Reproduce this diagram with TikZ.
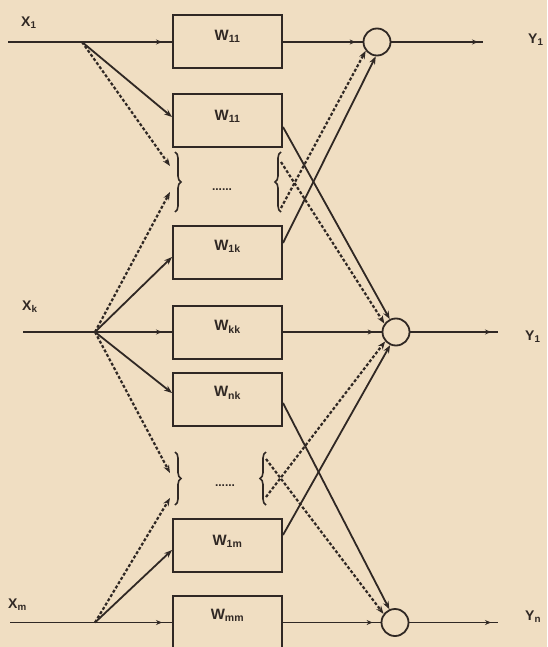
\documentclass[tikz,border=0pt]{standalone}
\usepackage{fontspec}
\setmainfont{Liberation Sans}
\usetikzlibrary{arrows.meta,decorations.pathreplacing,decorations.markings,calc}
\definecolor{paper}{RGB}{240,222,194}
\definecolor{ink}{RGB}{48,40,36}
\begin{document}
\begin{tikzpicture}[x=1pt,y=-1pt,
  wbox/.style={draw=ink,line width=2pt,minimum width=109pt,minimum height=53pt,inner sep=0pt},
  wlab/.style={font=\bfseries\fontsize{15}{15}\selectfont,text=ink,inner sep=0pt},
  xlab/.style={font=\bfseries\fontsize{14}{14}\selectfont,text=ink,anchor=west,inner sep=0pt},
  dotsl/.style={font=\bfseries\fontsize{12}{12}\selectfont,text=ink,inner sep=0pt},
  sumnode/.style={circle,draw=ink,line width=1.8pt,minimum size=27pt,inner sep=0pt},
  conn/.style={draw=ink,line width=1.8pt},
  dotconn/.style={draw=ink,line width=2.2pt,dash pattern=on 3pt off 2pt},
  tip/.style={-{Stealth[length=8pt,width=6pt]}},
  midtip/.style={postaction={decorate},decoration={markings,mark=at position #1 with {\arrow{Stealth[length=6pt,width=5pt]}}}},
  bracel/.style={draw=ink,line width=1.6pt,decorate,decoration={brace,amplitude=6pt}},
]
\useasboundingbox[fill=paper] (0,0) rectangle (547,647);
\clip (0,0) rectangle (547,647);

% boxes
\node[wbox] (b1) at (227.5,42) {};
\node[wbox] (b2) at (227.5,121) {};
\node[wbox] (b3) at (227.5,252.5) {};
\node[wbox] (b4) at (227.5,332) {};
\node[wbox] (b5) at (227.5,399) {};
\node[wbox] (b6) at (227.5,545) {};
\node[wbox] (b7) at (227.5,622.5) {};
\node[wlab] (t1) at ([yshift=6pt]b1.center) {W\textsubscript{11}};
\node[wlab] (t2) at ([yshift=5pt]b2.center) {W\textsubscript{11}};
\node[wlab] (t3) at ([yshift=6pt]b3.center) {W\textsubscript{1k}};
\node[wlab] (t4) at ([yshift=5pt]b4.center) {W\textsubscript{kk}};
\node[wlab] (t5) at ([yshift=6pt]b5.center) {W\textsubscript{nk}};
\node[wlab] (t6) at ([yshift=4pt]b6.center) {W\textsubscript{1m}};
\node[wlab] (t7) at ([yshift=7pt]b7.center) {W\textsubscript{mm}};

% summing circles
\node[sumnode] (c1) at (377,42) {};
\node[sumnode] (c2) at (396,332) {};
\node[sumnode] (c3) at (395,622.5) {};

% labels
\node[xlab] (x1) at (21,23) {X\textsubscript{1}};
\node[xlab] (xk) at (22,307) {X\textsubscript{k}};
\node[xlab] (xm) at (8,605) {X\textsubscript{m}};
\node[xlab] (y1) at (528,40) {Y\textsubscript{1}};
\node[xlab] (y2) at (525,337) {Y\textsubscript{1}};
\node[xlab] (y3) at (525,617) {Y\textsubscript{n}};

% dots
\node[dotsl] (d1) at (222,190) {......};
\node[dotsl] (d2) at (225,486) {......};

% coordinates
\coordinate (s1) at (8,42);
\coordinate (sk) at (23,332);
\coordinate (sm) at (10,622.5);
\coordinate (p1) at (82,42);
\coordinate (pk) at (95,332);
\coordinate (pm) at (95,622.5);
\coordinate (l1a) at (170,166);
\coordinate (l1b) at (170,192);
\coordinate (l2a) at (170,473);
\coordinate (l2b) at (170,498);
\coordinate (r1a) at (281,162);
\coordinate (r1b) at (281,208);
\coordinate (r2a) at (266,459);
\coordinate (r2b) at (266,497);
\coordinate (o1) at (483,42);
\coordinate (o2) at (498,332);
\coordinate (o3) at (498,622.5);

% braces
\draw[bracel] (175,152) -- (175,212);
\draw[bracel] (175,452) -- (175,505);
\draw[bracel] (281,212) -- (281,152);
\draw[bracel] (266,505) -- (266,452);

% input lines
\draw[conn,midtip=-10pt] (s1) -- (b1.west);
\draw[conn,midtip=-10pt] (sk) -- (b4.west);
\draw[conn,midtip=-10pt] (sm) -- (b7.west);

% branches
\draw[conn,tip] (p1) -- ([yshift=4pt]b2.west);
\draw[dotconn,tip] (p1) -- (l1a);
\draw[conn,tip] (pk) -- ([yshift=-4.5pt]b3.west);
\draw[conn,tip] (pk) -- ([yshift=6pt]b5.west);
\draw[dotconn,tip] (pk) -- (l1b);
\draw[dotconn,tip] (pk) -- (l2a);
\draw[conn,tip] (pm) -- ([yshift=-5pt]b6.west);
\draw[dotconn,tip] (pm) -- (l2b);

% to summing circles
\draw[conn,midtip=-7pt] (b1.east) -- (c1.west);
\draw[conn,midtip=-8pt] (b4.east) -- (c2.west);
\draw[conn,midtip=-8pt] (b7.east) -- (c3.west);
\draw[conn,tip] ([yshift=9.5pt]b3.east) -- (c1.-95);
\draw[dotconn,tip] (r1b) -- (c1.-142);
\draw[conn,tip] ([yshift=-6pt]b2.east) -- (c2.116);
\draw[dotconn,tip] (r1a) -- (c2.144);
\draw[conn,tip] ([yshift=10pt]b6.east) -- (c2.-114);
\draw[dotconn,tip] (r2b) -- (c2.-139);
\draw[conn,tip] ([yshift=-4pt]b5.east) -- (c3.113);
\draw[dotconn,tip] (r2a) -- (c3.143);

% outputs
\draw[conn,midtip=-5pt] (c1.east) -- (o1);
\draw[conn,midtip=-7pt] (c2.east) -- (o2);
\draw[conn,midtip=-7pt] (c3.east) -- (o3);
\end{tikzpicture}
\end{document}
